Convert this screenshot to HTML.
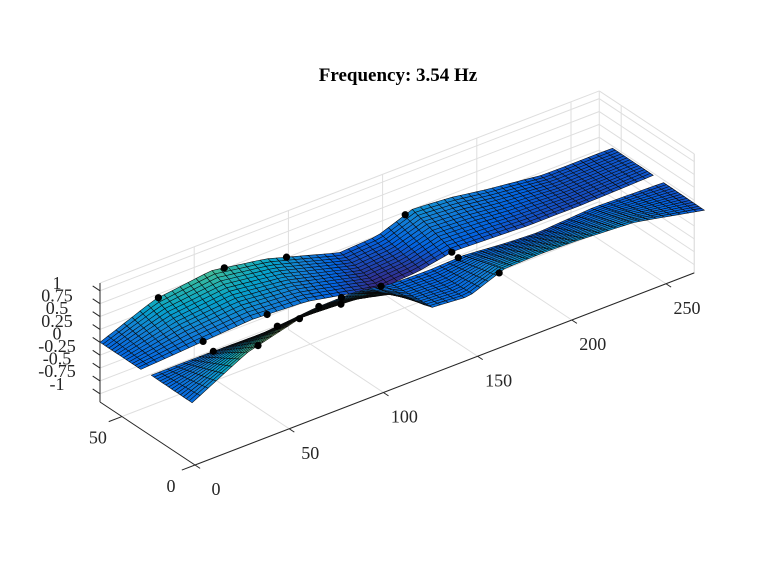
<!DOCTYPE html>
<html><head><meta charset="utf-8"><style>
html,body{margin:0;padding:0;background:#fff;}
svg{display:block;font-family:"Liberation Serif",serif;}
</style></head><body>
<svg id="chart" width="768" height="576" viewBox="0 0 768 576" xmlns="http://www.w3.org/2000/svg">
<rect width="768" height="576" fill="#fff"/>
<text x="398" y="81" text-anchor="middle" font-size="19" font-weight="bold" fill="#000">Frequency: 3.54 Hz</text>
<g id="grid"></g>
<g id="surf"></g>
<g id="dots"></g>
<g id="axes"></g>
</svg>
<script>
// ---- data ----
const xSamples = [0,29,59,88,108,127,147,166,186,205,235,272];
const backFarZ  = [0.0,0.42,0.56,0.38,0.16,-0.05,-0.01,0.25,0.19,0.08,-0.06,-0.06];
const backNearZ = [0.0,0.07,0.14,0.08,-0.07,-0.22,-0.17,-0.04,-0.07,-0.10,-0.10,-0.06];
const frontFarZ = [0.02,0.02,0.0,0.10,0.11,0.0,-0.02,0.01,-0.06,-0.10,-0.03,-0.07];
const frontNearZ= [0.01,0.57,0.86,0.79,0.61,0.07,0.01,0.28,0.30,0.28,0.21,-0.08];
const stripY = [2,30,37,65]; // front near, front far, back near, back far
const backFarDots=[31,66,99,162];
const backNearDots=[33,67,165];
const frontFarDots=[33,67,89,101,122,163];
const frontNearDots=[35,57,79,163];
const xTicks=[0,50,100,150,200,250];
const yTicks=[0,50];
const zTicks=[-1,-0.75,-0.5,-0.25,0,0.25,0.5,0.75,1];
const zTickLabels=["-1","-0.75","-0.5","-0.25","0","0.25","0.5","0.75","1"];
// ---- projection ----
const XMAX=265,YMAX=65,ZMIN=-1.16,ZMAX=1.15,SURFX=272;
function px(x,y,z){return [195+1.884*x-1.4615*y, 465-0.725*x-0.969*y-51.5*(z-ZMIN)];}
const NS="http://www.w3.org/2000/svg";
function mk(tag,attrs,parent){const e=document.createElementNS(NS,tag);for(const k in attrs)e.setAttribute(k,attrs[k]);parent.appendChild(e);return e;}
function line(p,q,stroke,w,parent,name){const e=mk('line',{x1:p[0],y1:p[1],x2:q[0],y2:q[1],stroke:stroke,'stroke-width':w},parent);

return e;}
const G=document.getElementById('grid'),S=document.getElementById('surf'),D=document.getElementById('dots'),A=document.getElementById('axes');
const gc="#dedede";
xTicks.forEach(t=>line(px(t,0,ZMIN),px(t,YMAX,ZMIN),gc,1,G,'floor-grid-x'));
yTicks.forEach(t=>line(px(0,t,ZMIN),px(XMAX,t,ZMIN),gc,1,G,'floor-grid-y'));
xTicks.forEach(t=>line(px(t,YMAX,ZMIN),px(t,YMAX,ZMAX),gc,1,G,'back-grid-x'));
zTicks.forEach(t=>line(px(0,YMAX,t),px(XMAX,YMAX,t),gc,1,G,'back-grid-z'));
yTicks.forEach(t=>line(px(XMAX,t,ZMIN),px(XMAX,t,ZMAX),gc,1,G,'side-grid-y'));
zTicks.forEach(t=>line(px(XMAX,0,t),px(XMAX,YMAX,t),gc,1,G,'side-grid-z'));
line(px(0,YMAX,ZMAX),px(XMAX,YMAX,ZMAX),gc,1,G,'box-top-back');
line(px(XMAX,0,ZMAX),px(XMAX,YMAX,ZMAX),gc,1,G,'box-top-side');
line(px(XMAX,0,ZMIN),px(XMAX,0,ZMAX),gc,1,G,'box-right-edge');
line(px(XMAX,YMAX,ZMIN),px(XMAX,YMAX,ZMAX),gc,1,G,'box-back-right');
const stops=[[0.2081,0.1663,0.5292],[0.0117,0.3875,0.882],[0.0779,0.504,0.8383],[0.0232,0.6407,0.7925],[0.2228,0.7258,0.6165],[0.5709,0.7462,0.4486],[0.8491,0.7271,0.3398],[0.9893,0.8008,0.2382],[0.9763,0.9831,0.0538]];
function parula(t){t=Math.max(0,Math.min(1,t));const f=t*(stops.length-1),i=Math.min(stops.length-2,Math.floor(f)),u=f-i;
const c=stops[i].map((v,k)=>Math.round(255*(v+(stops[i+1][k]-v)*u)));return `rgb(${c[0]},${c[1]},${c[2]})`;}
const CMIN=-0.2,CMAX=1.25;
function zAt(zs,x){for(let i=0;i<xSamples.length-1;i++){if(x<=xSamples[i+1]){const u=(x-xSamples[i])/(xSamples[i+1]-xSamples[i]);return zs[i]+(zs[i+1]-zs[i])*u;}}return zs[zs.length-1];}
function drawStrip(nearZ,farZ,y0,y1,name){
 const NX=64,NY=14;
 const g=mk('g',{},S);
 
 
 for(let j=NY-1;j>=0;j--){
  for(let i=0;i<NX;i++){
   const xa=SURFX*i/NX,xb=SURFX*(i+1)/NX,va=j/NY,vb=(j+1)/NY;
   const pt=(x,v)=>{const z=zAt(nearZ,x)+(zAt(farZ,x)-zAt(nearZ,x))*v;return [x,y0+(y1-y0)*v,z];};
   const c=[pt(xa,va),pt(xb,va),pt(xb,vb),pt(xa,vb)];
   const zm=(c[0][2]+c[1][2]+c[2][2]+c[3][2])/4;
   const pts=c.map(p=>px(p[0],p[1],p[2]).map(v=>v.toFixed(1)).join(',')).join(' ');
   const e=mk('polygon',{points:pts,fill:parula((zm-CMIN)/(CMAX-CMIN)),stroke:'#0a0a0a','stroke-width':0.55,'stroke-linejoin':'round'},g);
   
   
  }
 }
}
drawStrip(backNearZ,backFarZ,stripY[2],stripY[3],'back-surface');
drawStrip(frontNearZ,frontFarZ,stripY[0],stripY[1],'front-surface');
function dots(arr,zs,y){arr.forEach(x=>{const p=px(x,y,zAt(zs,x));const e=mk('circle',{cx:p[0],cy:p[1],r:3.6,fill:'#000'},D);
 
 });}
dots(backFarDots,backFarZ,stripY[3]);dots(backNearDots,backNearZ,stripY[2]);
dots(frontFarDots,frontFarZ,stripY[1]);dots(frontNearDots,frontNearZ,stripY[0]);
const ac="#262626";
line(px(0,0,ZMIN),px(XMAX,0,ZMIN),ac,1,A,'x-axis-line');
line(px(0,0,ZMIN),px(0,YMAX,ZMIN),ac,1,A,'y-axis-line');
line(px(0,YMAX,ZMIN),px(0,YMAX,ZMAX),ac,1,A,'z-axis-line');
function txt(s,x,y,name,anchor){const e=mk('text',{x:x,y:y,'font-size':18,fill:'#262626','text-anchor':anchor||'middle'},A);e.textContent=s;
 
 }
xTicks.forEach(t=>{line(px(t,0,ZMIN),px(t,-3.5,ZMIN),ac,1,A,'x-tick');const p=px(t,0,ZMIN);txt(String(t),p[0]+21,p[1]+30,'x-tick-label');});
yTicks.forEach(t=>{line(px(0,t,ZMIN),px(-7,t,ZMIN),ac,1,A,'y-tick');const p=px(0,t,ZMIN);txt(String(t),p[0]-24,p[1]+27,'y-tick-label');});
zTicks.forEach((t,i)=>{const p=px(0,YMAX,t);line(p,px(0,YMAX+5,t),ac,1,A,'z-tick');txt(zTickLabels[i],57,283+(1-t)/0.25*12.6+6,'z-tick-label');});
</script>
</body></html>
